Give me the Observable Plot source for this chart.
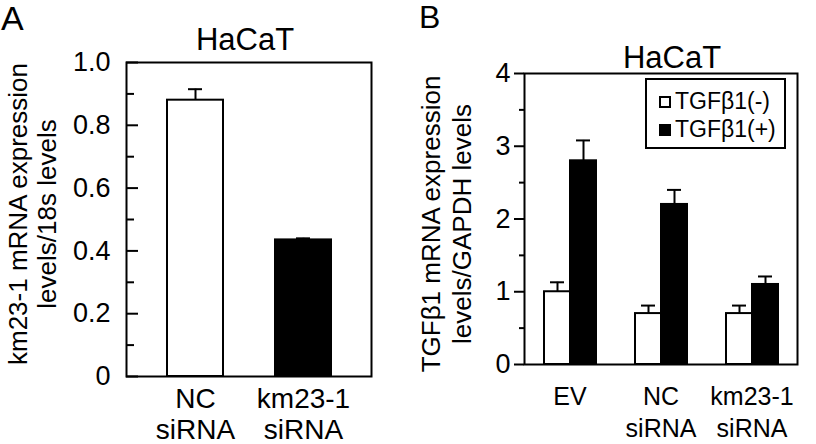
<!DOCTYPE html>
<html>
<head>
<meta charset="utf-8">
<script src="https://cdn.jsdelivr.net/npm/d3@7"></script>
<script src="https://cdn.jsdelivr.net/npm/@observablehq/plot@0.6"></script>
<style>
  html, body { margin: 0; padding: 0; background: white; }
  #wrap { position: relative; width: 816px; height: 444px; overflow: hidden; font-family: "Liberation Sans", Arial, sans-serif; color: black; }
  .panel { position: absolute; top: 0; }
  .abs { position: absolute; white-space: nowrap; }
  .ylab { position: absolute; text-align: center; transform: rotate(-90deg); white-space: pre; }
  .legend { position: absolute; border: 2px solid black; box-sizing: border-box; background: white; }
  .legend .row { position: absolute; left: 12px; display: flex; align-items: center; font-size: 23px; }
  .legend .sw { width: 12px; height: 12px; border: 2px solid black; box-sizing: border-box; margin-right: 4px; }
</style>
</head>
<body>
<div id="wrap"></div>
<script>
// ---------- Panel A data ----------
const catsA = ["NC\nsiRNA", "km23-1\nsiRNA"];
const valuesA = [0.88, 0.435];
const errorsA = [0.035, 0.005];
const ticksA = [0, 0.2, 0.4, 0.6, 0.8, 1.0];
const minorTicksA = [0.1, 0.3, 0.5, 0.7, 0.9];

// ---------- Panel B data ----------
const groupsB = ["EV", "NC\nsiRNA", "km23-1\nsiRNA"];
const seriesB = ["TGFβ1(-)", "TGFβ1(+)"];
const minusB = [1.0, 0.7, 0.7];
const minusErrB = [0.13, 0.11, 0.11];
const plusB = [2.8, 2.2, 1.1];
const plusErrB = [0.28, 0.2, 0.11];
const ticksB = [0, 1, 2, 3, 4];
const minorTicksB = [0.5, 1.5, 2.5, 3.5];

const wrap = document.getElementById("wrap");
const font = '"Liberation Sans", Arial, sans-serif';

// ---------- Panel A ----------
const dataA = catsA.map((c, i) => ({cat: c, v: valuesA[i], e: errorsA[i]}));
const plotA = Plot.plot({
  width: 408, height: 444,
  marginLeft: 126, marginRight: 37, marginTop: 62, marginBottom: 68,
  style: {fontFamily: font, fontSize: "26px", background: "white", color: "black", overflow: "visible"},
  x: {domain: catsA, paddingInner: 0.484, paddingOuter: 0.371, axis: null},
  y: {domain: [0, 1], axis: null},
  color: {domain: catsA, range: ["white", "black"]},
  marks: [
    Plot.barY(dataA, {x: "cat", y: "v", fill: "cat", stroke: "black", strokeWidth: 2}),
    Plot.ruleX(dataA, {x: "cat", y1: "v", y2: d => d.v + d.e, strokeWidth: 2}),
    Plot.tickY(dataA, {x: "cat", y: d => d.v + d.e, insetLeft: 21, insetRight: 21, strokeWidth: 2}),
    Plot.axisY({ticks: ticksA, tickSize: -12, tickPadding: 28, strokeWidth: 2, label: null,
      tickFormat: d => d === 0 ? "0" : d.toFixed(1), fontSize: 27}),
    Plot.axisY({ticks: minorTicksA, tickSize: -8, tickFormat: () => "", strokeWidth: 2, label: null}),
    Plot.axisX({tickSize: 0, tickPadding: 9, label: null, fontSize: 28, lineHeight: 1.12}),
    Plot.frame({strokeWidth: 2})
  ]
});
plotA.classList.add("panel");
plotA.style.left = "0px";
wrap.appendChild(plotA);

// ---------- Panel B ----------
const dataB = [];
groupsB.forEach((g, i) => {
  dataB.push({group: g, series: seriesB[0], v: minusB[i], e: minusErrB[i]});
  dataB.push({group: g, series: seriesB[1], v: plusB[i], e: plusErrB[i]});
});
const plotB = Plot.plot({
  width: 408, height: 444,
  marginLeft: 116, marginRight: 19, marginTop: 73, marginBottom: 80,
  style: {fontFamily: font, fontSize: "26px", background: "white", color: "black", overflow: "visible"},
  fx: {domain: groupsB, paddingInner: 0, paddingOuter: 0, label: null},
  x: {domain: seriesB, paddingInner: 0, paddingOuter: 0.75, axis: null},
  y: {domain: [0, 4]},
  color: {domain: seriesB, range: ["white", "black"]},
  marks: [
    Plot.barY(dataB, {fx: "group", x: "series", y: "v", fill: "series", stroke: "black", strokeWidth: 2}),
    Plot.ruleX(dataB, {fx: "group", x: "series", y1: "v", y2: d => d.v + d.e, strokeWidth: 2}),
    Plot.tickY(dataB, {fx: "group", x: "series", y: d => d.v + d.e, insetLeft: 6, insetRight: 6, strokeWidth: 2}),
    Plot.axisY({ticks: ticksB, tickSize: 10, tickPadding: 4, strokeWidth: 2, label: null, fontSize: 27,
      tickFormat: d => String(d)}),
    Plot.axisY({ticks: minorTicksB, tickSize: 5, tickFormat: () => "", strokeWidth: 2, label: null}),
    Plot.axisFx({anchor: "bottom", tickSize: 0, tickPadding: 17, label: null, fontSize: 25, lineHeight: 1.3}),
    Plot.frame({facet: "super", strokeWidth: 2})
  ]
});
plotB.classList.add("panel");
plotB.style.left = "408px";
wrap.appendChild(plotB);

// ---------- Text overlays ----------
function addDiv(cls, text, css) {
  const d = document.createElement("div");
  d.className = cls;
  d.textContent = text;
  Object.assign(d.style, css);
  wrap.appendChild(d);
  return d;
}
addDiv("abs", "A", {left: "1px", top: "-2px", fontSize: "34px", lineHeight: "40px"});
addDiv("abs", "B", {left: "419px", top: "-2px", fontSize: "32px", lineHeight: "38px"});
addDiv("abs", "HaCaT", {left: "145px", width: "200px", textAlign: "center", top: "22px", fontSize: "31px", lineHeight: "36px"});
addDiv("abs", "HaCaT", {left: "572px", width: "200px", textAlign: "center", top: "40px", fontSize: "31px", lineHeight: "36px"});

addDiv("ylab", "km23-1 mRNA expression\nlevels/18s levels",
  {left: (32.5 - 200) + "px", top: (214 - 29) + "px", width: "400px", height: "58px", fontSize: "26px", lineHeight: "29px"});
addDiv("ylab", "TGFβ1 mRNA expression\nlevels/GAPDH levels",
  {left: (446.5 - 200) + "px", top: (224 - 31) + "px", width: "400px", height: "62px", fontSize: "26px", lineHeight: "31px"});

// Legend
const leg = document.createElement("div");
leg.className = "legend";
Object.assign(leg.style, {left: "645px", top: "78px", width: "141px", height: "71px"});
seriesB.forEach((s, i) => {
  const row = document.createElement("div");
  row.className = "row";
  row.style.top = (i === 0 ? 8 : 36) + "px";
  const sw = document.createElement("div");
  sw.className = "sw";
  sw.style.background = i === 0 ? "white" : "black";
  const t = document.createElement("span");
  t.textContent = s;
  row.appendChild(sw);
  row.appendChild(t);
  leg.appendChild(row);
});
wrap.appendChild(leg);
</script>
</body>
</html>
